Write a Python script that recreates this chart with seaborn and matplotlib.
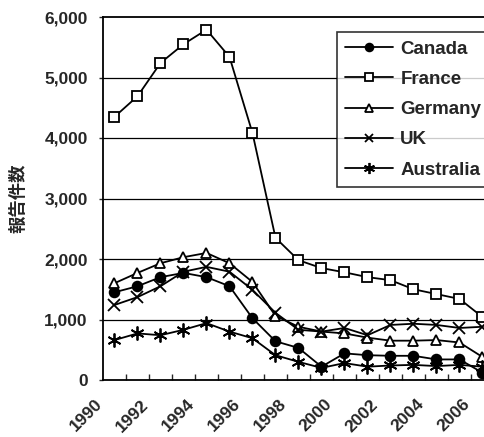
from matplotlib import pyplot as plt
from matplotlib.ticker import FixedLocator, FuncFormatter
from matplotlib.transforms import ScaledTranslation
import numpy as np
import pandas as pd
import seaborn as sns

years = list(range(1990, 2007))
canada = [1450, 1550, 1700, 1770, 1700, 1550, 1020, 640, 530, 220,
          440, 410, 400, 400, 340, 340, 120]
france = [4350, 4690, 5240, 5550, 5790, 5340, 4080, 2350, 1980, 1850,
          1780, 1700, 1650, 1500, 1420, 1340, 1040]
germany = [1600, 1770, 1930, 2030, 2100, 1930, 1620, 1060, 880, 800,
           770, 700, 650, 650, 660, 620, 380]
uk = [1240, 1370, 1550, 1790, 1870, 1790, 1490, 1110, 830, 800,
      860, 740, 910, 930, 910, 860, 880]
australia = [660, 770, 740, 830, 940, 800, 690, 410, 300, 200,
             280, 220, 240, 250, 230, 250, 220]
countries = ["Canada", "France", "Germany", "UK", "Australia"]
series = [canada, france, germany, uk, australia]
y_label = "報告件数"

rows = []
for name, vals in zip(countries, series):
    for i, v in enumerate(vals):
        rows.append({"idx": i, "year": years[i], "country": name, "count": v})
df = pd.DataFrame(rows)

sns.set_style("white")
plt.rcParams["font.family"] = ["Liberation Sans", "Noto Sans CJK JP", "DejaVu Sans"]
plt.rcParams["font.weight"] = "bold"

fig = plt.figure(figsize=(4.85, 4.37), dpi=100)
ax = fig.add_axes([103 / 485, 57 / 437, 391 / 485, 363 / 437])

markers = {"Canada": "o", "France": "s", "Germany": "^", "UK": "x",
           "Australia": (6, 2, 0)}
sizes = {"Canada": 7, "France": 7, "Germany": 7.5, "UK": 8, "Australia": 10}

for name in countries:
    sub = df[df["country"] == name]
    sns.lineplot(data=sub, x="idx", y="count", ax=ax, color="black",
                 linewidth=1.3, marker=markers[name], markersize=sizes[name],
                 markerfacecolor="black" if name == "Canada" else "white",
                 markeredgecolor="black", markeredgewidth=1.3, label=name,
                 legend=False)

ax.set_xlim(-0.5, 16.5)
ax.set_ylim(0, 6000)
ax.set_xlabel("")
ax.set_ylabel("")

# gridlines
for g in range(1000, 6000, 1000):
    ax.axhline(g, color="black", linewidth=0.9, zorder=0)

ax.set_yticks(range(0, 6001, 1000))
ax.yaxis.set_major_formatter(FuncFormatter(lambda v, p: f"{int(v):,}"))
ax.tick_params(axis="y", direction="out", length=3, width=1, labelsize=12.5,
               pad=8, left=True)
for lab in ax.get_yticklabels():
    lab.set_fontweight("bold")

ax.set_xticks(range(0, 17, 2))
ax.set_xticklabels([str(y) for y in years[::2]], rotation=45, ha="right",
                   rotation_mode="anchor", fontsize=12.5, fontweight="bold")
ax.tick_params(axis="x", which="major", length=0, pad=12)
shift = ScaledTranslation(-0.2, 0, fig.dpi_scale_trans)
for lab in ax.get_xticklabels():
    lab.set_transform(lab.get_transform() + shift)
ax.xaxis.set_minor_locator(FixedLocator(np.arange(0.5, 16.5, 1)))
ax.tick_params(axis="x", which="minor", direction="in", length=4, width=1,
               bottom=True)

for s in ax.spines.values():
    s.set_color("black")
    s.set_linewidth(1.3)

fig.text(18 / 485, 1 - 198 / 437, y_label, rotation=90, ha="center",
         va="center", fontsize=12.5, fontweight="bold",
         family=["Noto Sans CJK JP"])

leg = ax.legend(loc="upper left", bbox_to_anchor=(337 / 485, 1 - 32 / 437),
                bbox_transform=fig.transFigure, frameon=True, fancybox=False,
                edgecolor="black", fontsize=13.5, handlelength=2.56,
                labelspacing=0.7, borderpad=0.45, handletextpad=0.37,
                borderaxespad=0)
leg.get_frame().set_linewidth(1.2)
for t in leg.get_texts():
    t.set_fontweight("bold")
for h in leg.legend_handles:
    h.set_markersize(h.get_markersize() * 0.8)

fig.savefig("out.png", dpi=100)
